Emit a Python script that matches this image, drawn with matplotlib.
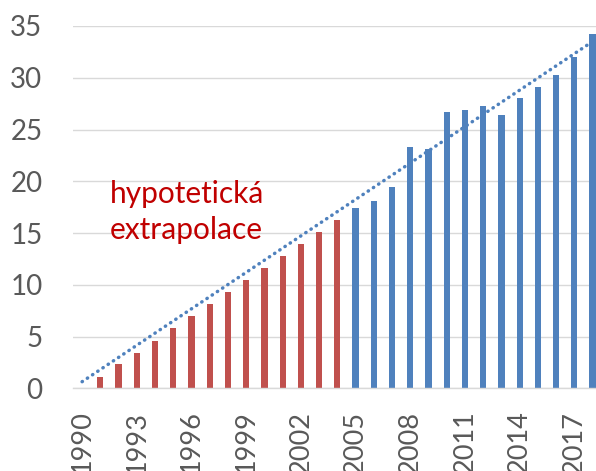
import numpy as np
import matplotlib
matplotlib.use('Agg')
import matplotlib.pyplot as plt

# data
years = list(range(1990, 2019))
extrapolated = [0, 1.1, 2.3, 3.4, 4.6, 5.8, 7.0, 8.1, 9.3, 10.5, 11.6, 12.8, 13.9, 15.1, 16.3]  # 1990-2004
measured = [17.4, 18.1, 19.4, 23.3, 23.1, 26.7, 26.9, 27.3, 26.4, 28.0, 29.1, 30.3, 32.0, 34.2]  # 2005-2018
tick_years = list(range(1990, 2019, 3))

RED = '#C0504D'
BLUE = '#4F81BD'
GRAY = '#595959'
GRID = '#D9D9D9'

plt.rcParams['font.family'] = ['Lato', 'DejaVu Sans']

fig = plt.figure(figsize=(5.96, 4.71), dpi=100)
ax = fig.add_axes([73 / 596, 1 - 388.3 / 471, 528.7 / 596, 362.3 / 471])

x_red = np.arange(len(extrapolated))
x_blue = np.arange(len(extrapolated), len(years))
ax.bar(x_red, extrapolated, width=0.34, color=RED, zorder=2)
ax.bar(x_blue, measured, width=0.34, color=BLUE, zorder=2)

# linear trend of the measured part, extended back to 1990
xs = np.arange(len(years))
k, q = np.polyfit(x_blue, measured, 1)
ax.plot(xs, k * xs + q, linestyle=(0, (0.1, 1.7)), dash_capstyle='round',
        color=BLUE, linewidth=2.5, zorder=3)

ax.set_xlim(-0.5, len(years) - 0.5)
ax.set_ylim(0, 35)
ax.set_yticks(range(0, 36, 5))
ax.set_xticks([years.index(y) for y in tick_years])
ax.set_xticklabels([str(y) for y in tick_years], rotation=90, va='top', ha='center')

ax.grid(axis='y', color=GRID, linewidth=1, zorder=0)
for s in ['top', 'right', 'left']:
    ax.spines[s].set_visible(False)
ax.spines['bottom'].set_color(GRID)
ax.spines['bottom'].set_linewidth(1)
ax.tick_params(axis='y', length=0, pad=22, labelsize=20, labelcolor=GRAY)
ax.tick_params(axis='x', length=0, pad=16, labelsize=19.5, labelcolor=GRAY)

ax.text(0.07, 0.575, 'hypotetická\nextrapolace', transform=ax.transAxes,
        color='#C00000', fontsize=21.5, va='top', ha='left', linespacing=1.35)

fig.savefig('out.png', dpi=100)
